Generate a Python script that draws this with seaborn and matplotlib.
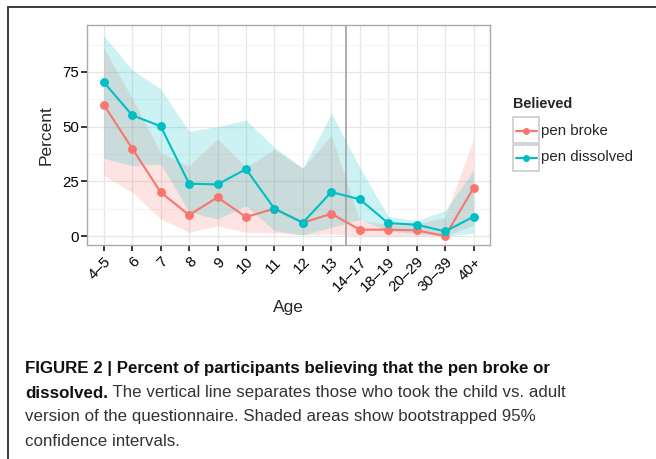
import numpy as np
import pandas as pd
import matplotlib
matplotlib.use("Agg")
import matplotlib.pyplot as plt
import seaborn as sns
from matplotlib.lines import Line2D
from matplotlib.patches import Rectangle
from matplotlib.ticker import FixedLocator

# Age groups and percentages believing each outcome
ages = ["4–5", "6", "7", "8", "9", "10", "11", "12", "13",
        "14–17", "18–19", "20–29", "30–39", "40+"]
broke = [60, 40, 20, 9.6, 17.7, 8.7, 12.5, 6.1, 10.2, 2.9, 2.9, 2.6, 0, 21.9]
dissolved = [70.3, 55.2, 50.2, 23.9, 23.6, 30.6, 12.5, 6.1, 20.1, 16.8, 5.9, 5.2, 2.1, 8.8]

# Bootstrapped 95% confidence bounds
broke_lo = [27.6, 20, 7.8, 1.7, 4.7, 1.7, 1.5, 0.5, 1, 0, 0, 0, 0, 5]
broke_hi = [86, 63, 38, 32, 44.4, 31.5, 39.5, 31, 46, 7, 5.5, 5.5, 8.5, 44.4]
dissolved_lo = [35.5, 32.2, 33, 11, 7.8, 13.9, 2.5, 0.5, 4, 7.5, 2.4, 1.2, 0, 1.2]
dissolved_hi = [91.6, 75.9, 67.2, 47.9, 50, 53, 40.5, 31, 56, 31.4, 9, 7, 11.6, 30]

groups = ["pen broke", "pen dissolved"]
colors = ["#F8766D", "#00BFC4"]
y_ticks = [0, 25, 50, 75]
split_at = 8.5  # child vs. adult questionnaire

df = pd.DataFrame({
    "Age": ages * 2,
    "Percent": broke + dissolved,
    "Believed": [groups[0]] * len(ages) + [groups[1]] * len(ages),
})

sns.set_theme(style="white")
plt.rcParams["font.family"] = ["Liberation Sans", "DejaVu Sans"]

W, H = 656, 459
fig = plt.figure(figsize=(W / 100, H / 100), dpi=100)
ax = fig.add_axes([87.3 / W, 1 - 245 / H, (490 - 87.3) / W, (245 - 24.7) / H])

x = np.arange(len(ages))
for lo, hi, c in [(broke_lo, broke_hi, colors[0]), (dissolved_lo, dissolved_hi, colors[1])]:
    ax.fill_between(x, lo, hi, color=c, alpha=0.2, lw=0, zorder=2)

sns.lineplot(data=df, x="Age", y="Percent", hue="Believed", palette=colors,
             marker="o", markersize=6.4, markeredgewidth=0, linewidth=1.5,
             sort=False, legend=False, ax=ax, zorder=4)

ax.axvline(split_at, color="#A8A8A8", lw=1.3, zorder=3)

ax.set_xlim(-0.58, 13.58)
ax.set_ylim(-4.1, 96.6)
ax.set_xticks(x)
ax.set_xticklabels(ages, rotation=45, ha="right", va="top", rotation_mode="anchor")
ax.set_yticks(y_ticks)
ax.yaxis.set_minor_locator(FixedLocator([12.5, 37.5, 62.5, 87.5]))
ax.grid(True, which="major", color="#E6E6E6", lw=0.9, zorder=0)
ax.grid(True, which="minor", axis="y", color="#F4F4F4", lw=0.9, zorder=0)
ax.set_axisbelow(True)
ax.tick_params(axis="both", which="major", length=4, width=1.1, color="black",
               labelsize=10.8, labelcolor="black", pad=2, bottom=True, left=True)
ax.tick_params(axis="both", which="minor", length=0)
ax.tick_params(axis="x", pad=3)
for s in ax.spines.values():
    s.set_color("#AAAAAA")
    s.set_linewidth(1.0)
ax.set_xlabel("Age", fontsize=12.5, labelpad=4)
ax.set_ylabel("Percent", fontsize=12.5, labelpad=6)

# legend drawn in ggplot style: boxed keys
fig.text(513 / W, 1 - 104 / H, "Believed", fontsize=10.4, fontweight="bold",
         ha="left", va="center")
for i, (lab, c) in enumerate(zip(groups, colors)):
    top = 117.5 + i * 27
    fig.patches.append(Rectangle((513 / W, 1 - (top + 26) / H), 26 / W, 26 / H,
                                 transform=fig.transFigure, facecolor="white",
                                 edgecolor="#CCCCCC", lw=1.2))
    yc = 1 - (top + 13) / H
    fig.lines.append(Line2D([515.5 / W, 536.5 / W], [yc, yc], transform=fig.transFigure,
                            color=c, lw=1.5))
    fig.lines.append(Line2D([526 / W], [yc], transform=fig.transFigure, color=c,
                            marker="o", markersize=5, markeredgewidth=0))
    fig.text(541 / W, yc, lab, fontsize=10.8, ha="left", va="center")

# page frame
fig.lines.append(Line2D([7.5 / W, 1], [1 - 6.5 / H, 1 - 6.5 / H], transform=fig.transFigure,
                        color="#3A3A3A", lw=1.4))
fig.lines.append(Line2D([7.5 / W, 7.5 / W], [0, 1 - 6.5 / H], transform=fig.transFigure,
                        color="#3A3A3A", lw=1.4))

# caption
cap_font = ["Liberation Sans Narrow", "Liberation Sans", "DejaVu Sans"]
cap_size = 12.2
x0 = 25 / W
fig.text(x0, 1 - 372.5 / H, "FIGURE 2 | Percent of participants believing that the pen broke or",
         fontsize=cap_size, fontweight="bold", family=cap_font, va="baseline", color="#111111")
t_b = fig.text(x0, 1 - 397.5 / H, "dissolved.", fontsize=cap_size, fontweight="bold",
               family=cap_font, va="baseline", color="#111111")
fig.canvas.draw()
bb = t_b.get_window_extent(renderer=fig.canvas.get_renderer())
fig.text(bb.x1 / W, 1 - 397.5 / H,
         " The vertical line separates those who took the child vs. adult",
         fontsize=cap_size, family=cap_font, va="baseline", color="#333333")
fig.text(x0, 1 - 421.5 / H,
         "version of the questionnaire. Shaded areas show bootstrapped 95%",
         fontsize=cap_size, family=cap_font, va="baseline", color="#333333")
fig.text(x0, 1 - 445.5 / H, "confidence intervals.", fontsize=cap_size, family=cap_font,
         va="baseline", color="#333333")

fig.savefig("out.png", dpi=100)
